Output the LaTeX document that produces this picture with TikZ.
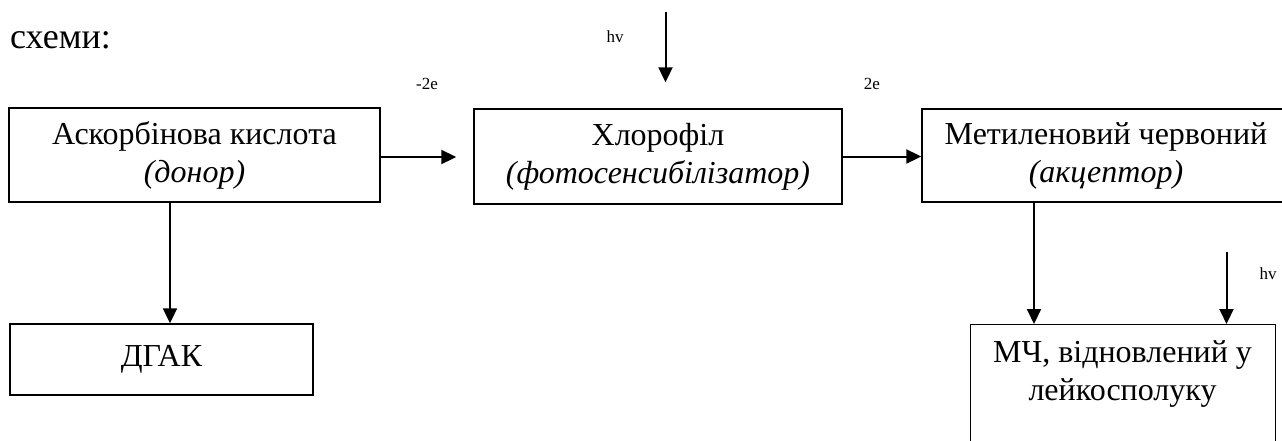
\documentclass[tikz,border=0pt]{standalone}
\usepackage{fontspec}
\setmainfont{Liberation Serif}
\usetikzlibrary{arrows.meta,positioning}
\tikzset{
    %Define standard arrow tip
    >={Triangle[length=15pt,width=14pt]},
    %Define style for boxes
    blok/.style={
           rectangle,
           draw=black,
           line width=1.4pt,
           align=center,
           font=\fontsize{32}{38}\selectfont,
           inner sep=0pt},
    % Define arrow style
    strilka/.style={
           ->,
           line width=2pt},
    % Define style for small labels
    mitka/.style={
           font=\fontsize{17}{20}\selectfont,
           inner sep=0pt}
}

\begin{document}
\begin{tikzpicture}[x=1pt,y=-1pt]
  \useasboundingbox (0,0) rectangle (1282,440);
  \clip (0,0) rectangle (1282,440);
  \node[anchor=base west, inner sep=0pt, font=\fontsize{36}{42}\selectfont] (sxemy) at (10,48) {схеми:};
  % boxes
  \node[blok, minimum width=371pt, minimum height=94pt] (askorb) at (194.5,155) {Аскорбінова кислота\\\textit{(донор)}};
  \node[blok, minimum width=368pt, minimum height=95pt] (hlorofil) at (658,156.5) {Хлорофіл\\\textit{(фотосенсибілізатор)}};
  \node[blok, minimum width=368pt, minimum height=93pt] (metylen) at (1106,155.5) {Метиленовий червоний\\\textit{(акцептор)}};
  \node[blok, minimum width=303pt, minimum height=71pt] (dgak) at (161.5,359.5) {ДГАК};
  \node[blok, minimum width=305pt, minimum height=150pt, anchor=north west] (mch) at (970,324) {};
  \node[blok, draw=none, anchor=base] (mchtekst) at (1122.5,400) {МЧ, відновлений у\\лейкосполуку};
  % light
  \coordinate (svitlo1) at (665.5,12);
  \coordinate (svitlo2) at (1226.5,252);
  \node[mitka] (hv1) at (615,37) {hv};
  \node[mitka] (hv2) at (1268,274) {hv};
  \node[mitka] (minus2e) at (427,84) {-2e};
  \node[mitka] (plus2e) at (872,84) {2e};
  % arrows
  \draw[strilka, shorten >=17pt] ([yshift=-2pt]askorb.east) -- ([yshift=-2pt]askorb.east -| hlorofil.west);
  \draw[strilka] (hlorofil.east) -- (hlorofil.east -| metylen.west);
  \draw[strilka, shorten >=26pt] (svitlo1) -- (svitlo1 |- hlorofil.north);
  \draw[strilka] ([xshift=-24.5pt]askorb.south) -- ([xshift=-24.5pt]askorb.south |- dgak.north);
  \draw[strilka] ([xshift=64pt]mch.north west |- metylen.south) -- ([xshift=64pt]mch.north west);
  \draw[strilka] (svitlo2) -- (svitlo2 |- mch.north);
\end{tikzpicture}
\end{document}
